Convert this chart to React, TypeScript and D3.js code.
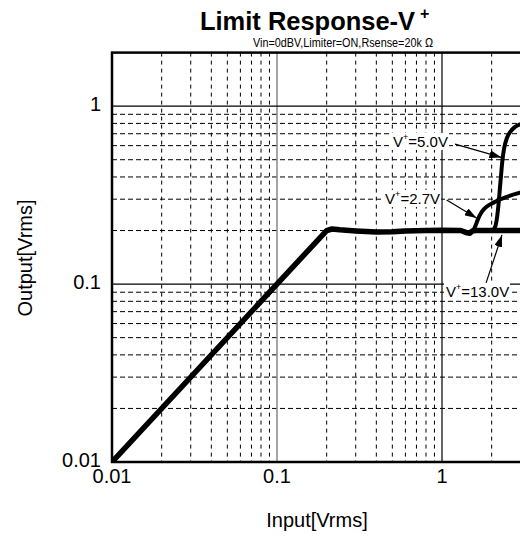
import React from "react";
import * as d3 from "d3";

// ---- data ----
const xTickValues = [0.01, 0.1, 1];
const xTickLabels = ["0.01", "0.1", "1"];
const yTickValues = [0.01, 0.1, 1];
const yTickLabels = ["0.01", "0.1", "1"];

// V+ = 13.0V (main curve)
const v13X = [0.01, 0.2, 0.215, 0.24, 0.3, 0.4, 0.5, 0.6, 0.8, 1.0, 1.3, 1.42, 1.47, 1.53, 1.6, 2, 3, 5, 10];
const v13Y = [0.01, 0.2, 0.204, 0.202, 0.199, 0.196, 0.197, 0.199, 0.2, 0.201, 0.2, 0.194, 0.193, 0.199, 0.2, 0.2, 0.2, 0.2, 0.2];
// V+ = 2.7V
const v27X = [1.55, 1.6, 1.66, 1.75, 1.87, 2.05, 2.4, 2.97, 3.4];
const v27Y = [0.2, 0.214, 0.234, 0.256, 0.273, 0.287, 0.306, 0.326, 0.336];
// V+ = 5.0V
const v50X = [2.02, 2.1, 2.16, 2.2, 2.24, 2.28, 2.32, 2.38, 2.47, 2.6, 2.75, 2.97, 3.4];
const v50Y = [0.2, 0.21, 0.24, 0.28, 0.34, 0.41, 0.49, 0.58, 0.66, 0.72, 0.76, 0.79, 0.83];

// annotations: label, text position (data), arrow start (data), arrow tip (data)
const annLabels = ["5.0V", "2.7V", "13.0V"];
const annTextX = [0.505, 0.452, 1.057];
const annTextY = [0.59, 0.282, 0.0846];
const annFromX = [1.2, 1.067, 1.85];
const annFromY = [0.612, 0.297, 0.1015];
const annTipX = [2.29, 1.62, 2.31];
const annTipY = [0.515, 0.235, 0.189];

const FONT = "'Liberation Sans', Arial, Helvetica, sans-serif";

export default function App() {
  const W = 520;
  const H = 538;
  const left = 112;
  const right = 607;
  const top = 52.6;
  const bottom = 462;

  const x = d3.scaleLog().domain([0.01, 10]).range([left, right]);
  const y = d3.scaleLog().domain([0.01, 2]).range([bottom, top]);

  const xMinor: number[] = [];
  [0.01, 0.1, 1].forEach((d) => {
    for (let k = 2; k <= 9; k++) xMinor.push(k * d);
  });
  const yMinor: number[] = [];
  [0.01, 0.1].forEach((d) => {
    for (let k = 2; k <= 9; k++) yMinor.push(k * d);
  });

  const lineLinear = d3
    .line<[number, number]>()
    .x((d) => x(d[0]))
    .y((d) => y(d[1]));
  const lineSmooth = d3
    .line<[number, number]>()
    .x((d) => x(d[0]))
    .y((d) => y(d[1]))
    .curve(d3.curveMonotoneX);

  const zip = (a: number[], b: number[]) => a.map((v, i) => [v, b[i]] as [number, number]);

  return (
    <svg
      width={W}
      height={H}
      style={{ position: "absolute", left: 0, top: 0, display: "block", background: "#fff" }}
      fontFamily={FONT}
    >
      <defs>
        <clipPath id="plotClip">
          <rect x={left} y={top} width={right - left} height={bottom - top} />
        </clipPath>
        <marker
          id="arrow"
          viewBox="0 0 12 8"
          refX={12}
          refY={4}
          markerWidth={12}
          markerHeight={8}
          markerUnits="userSpaceOnUse"
          orient="auto"
        >
          <path d="M0,0 L12,4 L0,8 Z" fill="#000" />
        </marker>
      </defs>
      <rect x={0} y={0} width={W} height={H} fill="#fff" />

      {/* title */}
      <text x={200} y={30} fontSize={26} fontWeight="bold" fill="#000" textLength={215} lengthAdjust="spacingAndGlyphs">
        Limit Response-V
      </text>
      <text x={420} y={19} fontSize={16} fontWeight="bold" fill="#000">
        +
      </text>
      <text x={253} y={47} fontSize={12} fill="#000" textLength={180} lengthAdjust="spacingAndGlyphs">
        Vin=0dBV,Limiter=ON,Rsense=20k  Ω
      </text>

      {/* grid */}
      <g clipPath="url(#plotClip)">
        {xMinor.map((v, i) => (
          <line key={"xm" + i} x1={x(v)} x2={x(v)} y1={top} y2={bottom} stroke="#000" strokeWidth={1} strokeDasharray="4,4" />
        ))}
        {yMinor.map((v, i) => (
          <line key={"ym" + i} x1={left} x2={right} y1={y(v)} y2={y(v)} stroke="#000" strokeWidth={1} strokeDasharray="5,3" />
        ))}
        <line x1={x(0.1)} x2={x(0.1)} y1={top} y2={bottom} stroke="#888" strokeWidth={1.5} />
        <line x1={x(1)} x2={x(1)} y1={top} y2={bottom} stroke="#000" strokeWidth={1.2} />
        {[0.1, 1].map((v, i) => (
          <line key={"yM" + i} x1={left} x2={right} y1={y(v)} y2={y(v)} stroke="#000" strokeWidth={1.2} />
        ))}

        {/* curves */}
        <path d={lineSmooth(zip(v27X, v27Y)) || ""} fill="none" stroke="#000" strokeWidth={4} strokeLinecap="round" strokeLinejoin="round" />
        <path d={lineSmooth(zip(v50X, v50Y)) || ""} fill="none" stroke="#000" strokeWidth={4} strokeLinecap="round" strokeLinejoin="round" />
        <path d={lineLinear(zip(v13X, v13Y)) || ""} fill="none" stroke="#000" strokeWidth={5.5} strokeLinecap="round" strokeLinejoin="round" />
      </g>

      {/* frame */}
      <rect x={left} y={top} width={right - left} height={bottom - top} fill="none" stroke="#000" strokeWidth={2.5} />

      {/* annotations */}
      {annLabels.map((lab, i) => (
        <g key={"ann" + i}>
          <rect
            x={x(annTextX[i]) - 2}
            y={y(annTextY[i]) - 14}
            width={lab.length > 4 ? 66 : 58}
            height={17}
            fill="#fff"
          />
          <text x={x(annTextX[i])} y={y(annTextY[i])} fontSize={15} fill="#000">
            V<tspan fontSize={9} dy={-7}>+</tspan>
            <tspan dy={7}>={lab}</tspan>
          </text>
          <line
            x1={x(annFromX[i])}
            y1={y(annFromY[i])}
            x2={x(annTipX[i])}
            y2={y(annTipY[i])}
            stroke="#000"
            strokeWidth={1.2}
            markerEnd="url(#arrow)"
          />
        </g>
      ))}

      {/* x tick labels */}
      {xTickValues.map((v, i) => (
        <text key={"xt" + i} x={x(v)} y={483} fontSize={20} textAnchor="middle" fill="#000">
          {xTickLabels[i]}
        </text>
      ))}
      {/* y tick labels */}
      {yTickValues.map((v, i) => (
        <text key={"yt" + i} x={101} y={y(v) + 5} fontSize={20} textAnchor="end" fill="#000">
          {yTickLabels[i]}
        </text>
      ))}

      {/* axis titles */}
      <text x={317} y={527} fontSize={20} textAnchor="middle" fill="#000">
        Input[Vrms]
      </text>
      <text
        transform={`translate(32, 258) rotate(-90)`}
        fontSize={20}
        textAnchor="middle"
        fill="#000"
      >
        Output[Vrms]
      </text>
    </svg>
  );
}
